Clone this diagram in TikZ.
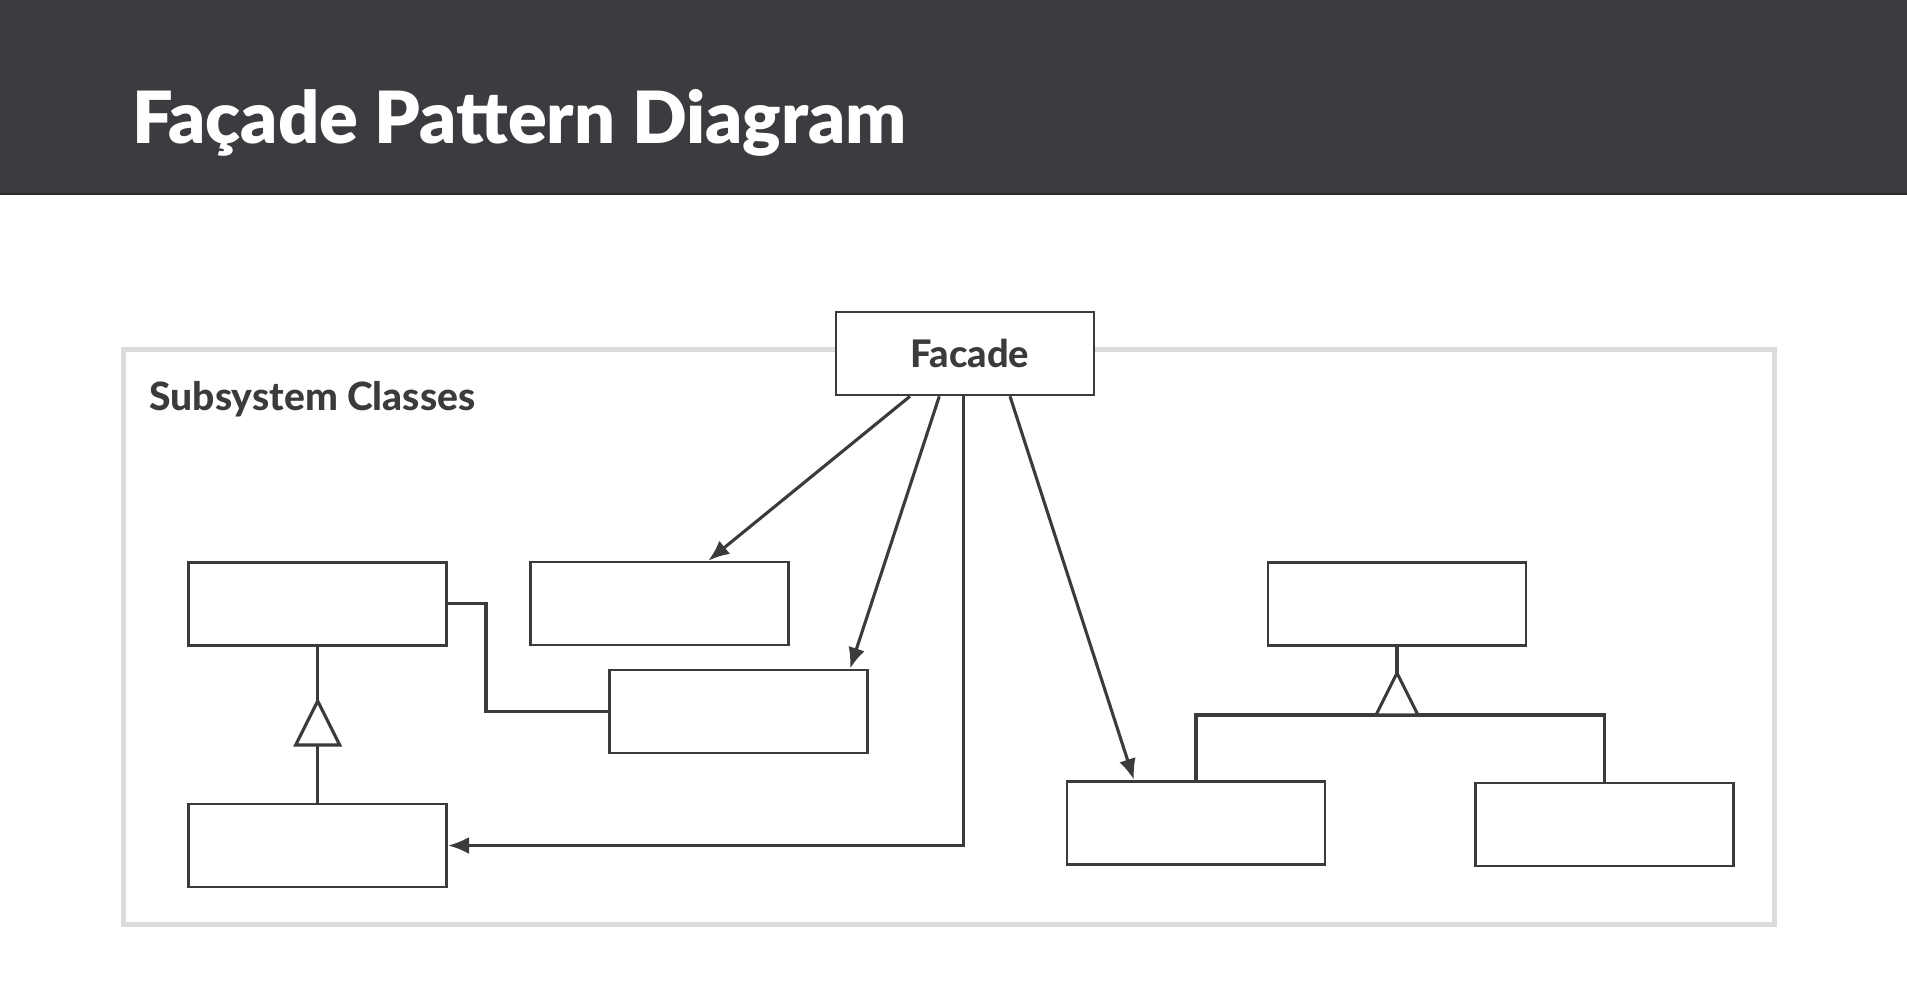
\documentclass[tikz,border=0pt]{standalone}
\usepackage{fontspec}
\setmainfont{Lato}
\newfontfamily\blackfont{Lato Black}
\newfontfamily\heavyfont{Lato Heavy}
\usetikzlibrary{arrows.meta,calc}
\definecolor{bar}{HTML}{3B3C40}
\definecolor{barline}{HTML}{2A2B2E}
\definecolor{ink}{HTML}{3B3B3B}
\definecolor{framegray}{HTML}{DCDCDC}
\begin{document}
\begin{tikzpicture}[x=1pt,y=-1pt,
  cls/.style={draw=ink,line width=2.6pt,fill=white,minimum width=258pt,minimum height=83pt,inner sep=0pt},
  conn/.style={draw=ink,line width=3.1pt},
  arr/.style={conn,-{Latex[length=21pt,width=17pt]}},
  gen/.style={draw=ink,line width=3.1pt,fill=white,line join=miter}]
\useasboundingbox (0,0) rectangle (1907,1008);
\fill[white] (0,0) rectangle (1907,1008);
% title bar
\fill[bar] (0,0) rectangle (1907,195);
\draw[barline,line width=2pt] (0,194) -- (1907,194);
\node[anchor=base west,text=white,inner sep=0pt,font=\fontsize{72}{72}\selectfont\blackfont] (title) at (132,143.3) {Façade Pattern Diagram};
% frame
\draw[framegray,line width=5pt] (123.5,350) rectangle (1774.7,924.7);
\node[anchor=base west,text=ink,inner sep=0pt,font=\fontsize{39}{39}\selectfont\heavyfont] (sub) at (149.3,410) {Subsystem Classes};
% classes
\node[cls,font=\fontsize{38}{38}\selectfont\heavyfont,text=ink] (fac) at (965,353.5) {\hspace*{10pt}Facade};
\node[cls] (A) at (317.7,603.7) {};
\node[cls] (B) at (659.7,603.5) {};
\node[cls] (C) at (738.3,711.5) {};
\node[cls] (D) at (317.7,845.5) {};
\node[cls] (E) at (1397,603.7) {};
\node[cls] (F) at (1196,822.7) {};
\node[cls] (G) at (1604.2,824.5) {};
% facade connectors
\draw[arr] ([xshift=-55pt]fac.south) -- ([xshift=48.6pt]B.north);
\draw[arr] ([xshift=-25.7pt]fac.south) -- ([xshift=111.7pt]C.north);
\draw[arr] ([xshift=-1.3pt]fac.south) |- (D.east);
\draw[arr] ([xshift=45pt]fac.south) -- ([xshift=-62pt]F.north);
% association A - C
\draw[conn] (A.east) -- ++(38,0) |- (C.west);
% generalization left
\coordinate (tl) at (317.7,701);
\coordinate (tlb) at (317.7,745);
\draw[conn] (A.south) -- (tl);
\draw[conn] (D.north) -- (tlb);
\draw[gen] (tl) -- ++(-22,44) -- ++(44,0) -- cycle;
% generalization right
\coordinate (tr) at (1397,673);
\coordinate (trb) at (1397,715);
\draw[conn] (E.south) -- (tr);
\draw[conn] (F.north) |- (trb) -| (G.north);
\draw[gen] (tr) -- ++(-21,42) -- ++(42,0) -- cycle;
\end{tikzpicture}
\end{document}
